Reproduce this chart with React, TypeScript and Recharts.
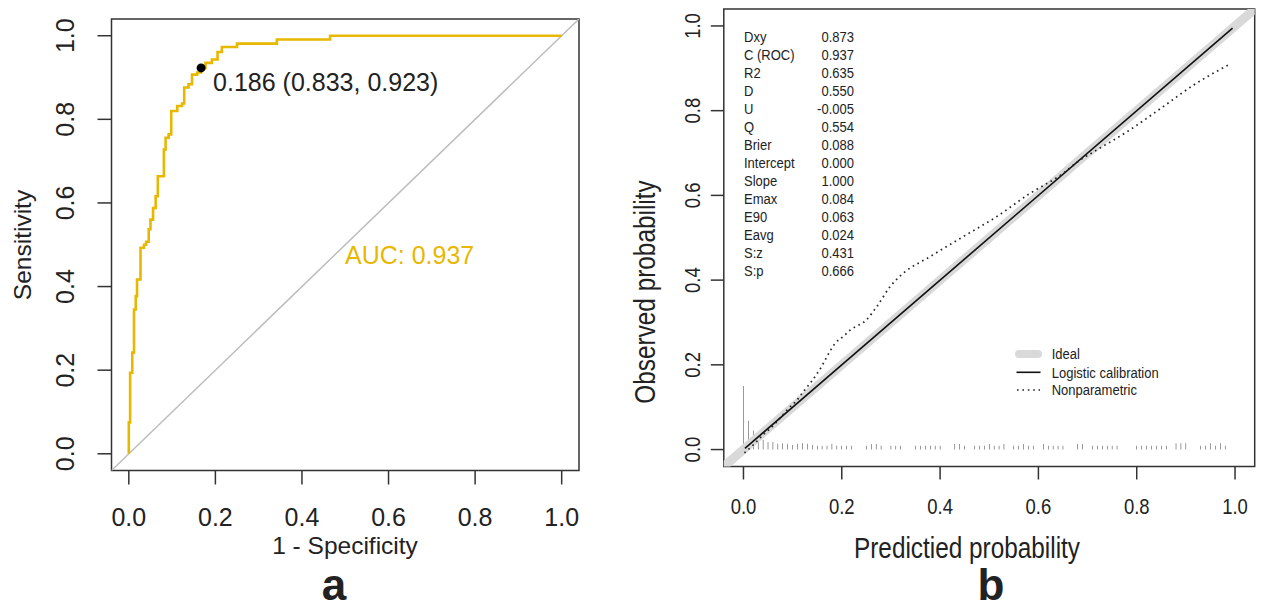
import React from "react";
import {
  Bar,
  ComposedChart,
  Line,
  ReferenceArea,
  ReferenceDot,
  XAxis,
  YAxis,
} from "recharts";

const SANS = "'Liberation Sans', Arial, Helvetica, sans-serif";
const SQUEEZE = 0.84; // panel b uses a narrow face
const GOLD = "#E8B700";
const INK = "#222";

const AXIS_TICKS = [0, 0.2, 0.4, 0.6, 0.8, 1.0];
const DOMAIN: [number, number] = [-0.04, 1.04];
const DIAG = [-0.1, 1.1];

// panel a: ROC, read as the top of each vertical step
const ROC_FPR = [
  0, 0, 0.003, 0.008, 0.012, 0.016, 0.019, 0.027, 0.035, 0.04, 0.046, 0.05, 0.056, 0.062, 0.067,
  0.081, 0.085, 0.092, 0.098, 0.112, 0.123, 0.128, 0.138, 0.146, 0.158, 0.167, 0.177, 0.192, 0.205,
  0.215, 0.25, 0.342, 0.465, 1.0,
];
const ROC_TPR = [
  0, 0.075, 0.194, 0.242, 0.345, 0.377, 0.417, 0.493, 0.5, 0.507, 0.537, 0.56, 0.588, 0.616, 0.664,
  0.728, 0.756, 0.764, 0.82, 0.832, 0.838, 0.876, 0.884, 0.907, 0.912, 0.923, 0.935, 0.943, 0.961,
  0.973, 0.981, 0.991, 1.0, 1.0,
];
const CUTOFF = { threshold: 0.186, specificity: 0.833, sensitivity: 0.923 };
const AUC = 0.937;

// panel b: calibration
const NP_P = [
  0.002, 0.021, 0.041, 0.055, 0.075, 0.089, 0.109, 0.122, 0.136, 0.149, 0.16, 0.17, 0.178, 0.186,
  0.203, 0.217, 0.25, 0.271, 0.298, 0.325, 0.379, 0.446, 0.514, 0.582, 0.649, 0.683, 0.717, 0.784,
  0.852, 0.919, 0.99,
];
const NP_OBS = [
  -0.008, 0.012, 0.036, 0.05, 0.075, 0.094, 0.117, 0.137, 0.157, 0.178, 0.198, 0.22, 0.236, 0.25,
  0.267, 0.282, 0.306, 0.337, 0.384, 0.416, 0.455, 0.502, 0.549, 0.604, 0.651, 0.682, 0.706, 0.753,
  0.808, 0.863, 0.91,
];
// intercept 0, slope 1 -> identity over the range of predictions
const LOGISTIC_P = [0.003, 0.995];

const SPIKE_P = [
  0.0, 0.01, 0.02, 0.03, 0.04, 0.05, 0.06, 0.07, 0.08, 0.09, 0.1, 0.11, 0.12, 0.13, 0.14, 0.15, 0.16,
  0.17, 0.18, 0.19, 0.2, 0.21, 0.22,
  0.25, 0.26, 0.27, 0.28,
  0.3, 0.31, 0.32,
  0.35, 0.36, 0.37, 0.38, 0.39, 0.4,
  0.43, 0.44, 0.45,
  0.47, 0.48, 0.49, 0.5, 0.51, 0.52, 0.53,
  0.55, 0.56, 0.57, 0.58, 0.59,
  0.61, 0.62, 0.63, 0.64, 0.65,
  0.68, 0.69,
  0.71, 0.72, 0.73, 0.74, 0.75, 0.76,
  0.8, 0.81, 0.82, 0.83, 0.84, 0.85, 0.86,
  0.88, 0.89, 0.9,
  0.93, 0.94, 0.95, 0.96, 0.97, 0.98,
];
const SPIKE_H = [
  0.15, 0.068, 0.045, 0.04, 0.023, 0.018, 0.018, 0.014, 0.015, 0.014, 0.011, 0.014, 0.015, 0.014,
  0.011, 0.009, 0.009, 0.009, 0.014, 0.009, 0.009, 0.009, 0.009,
  0.009, 0.013, 0.013, 0.009,
  0.009, 0.009, 0.009,
  0.009, 0.009, 0.009, 0.009, 0.009, 0.009,
  0.013, 0.013, 0.009,
  0.009, 0.009, 0.009, 0.013, 0.009, 0.009, 0.013,
  0.009, 0.009, 0.013, 0.009, 0.009,
  0.013, 0.009, 0.009, 0.009, 0.009,
  0.013, 0.013,
  0.009, 0.009, 0.009, 0.009, 0.009, 0.009,
  0.009, 0.009, 0.009, 0.009, 0.009, 0.009, 0.009,
  0.015, 0.015, 0.015,
  0.009, 0.009, 0.015, 0.009, 0.015, 0.009,
];

const STAT_NAMES = [
  "Dxy", "C (ROC)", "R2", "D", "U", "Q", "Brier", "Intercept", "Slope", "Emax", "E90", "Eavg", "S:z", "S:p",
];
const STAT_VALUES = [
  "0.873", "0.937", "0.635", "0.550", "-0.005", "0.554", "0.088", "0.000", "1.000", "0.084", "0.063",
  "0.024", "0.431", "0.666",
];
const LEGEND_LABELS = ["Ideal", "Logistic calibration", "Nonparametric"];

const rocData = ROC_FPR.map((x, i) => ({ x, y: ROC_TPR[i] }));
const diagData = DIAG.map((v) => ({ x: v, y: v }));
const npData = NP_P.map((x, i) => ({ x, y: NP_OBS[i] }));
const logisticData = LOGISTIC_P.map((v) => ({ x: v, y: v }));
const spikeData = SPIKE_P.map((x, i) => ({ x, h: SPIKE_H[i] }));

// text in the narrow face of panel b: a squeezed Liberation Sans
function Narrow({ x, y, size, anchor = "start", rotate = false, dy, children }: any) {
  const t = `translate(${x} ${y})${rotate ? " rotate(-90)" : ""} scale(${SQUEEZE} 1)`;
  return (
    <text transform={t} x={0} y={0} dy={dy} textAnchor={anchor} fontFamily={SANS} fontSize={size} fill={INK}>
      {children}
    </text>
  );
}

function makeXTick(size: number, dy: number, narrow: boolean) {
  return (props: any) => {
    const { x, y, payload } = props;
    const label = Number(payload.value).toFixed(1);
    if (narrow) return <Narrow x={x} y={y + dy} size={size} anchor="middle">{label}</Narrow>;
    return (
      <text x={x} y={y + dy} textAnchor="middle" fontFamily={SANS} fontSize={size} fill={INK}>
        {label}
      </text>
    );
  };
}

function makeYTick(size: number, dx: number, narrow: boolean) {
  return (props: any) => {
    const { x, y, payload } = props;
    const cx = x - dx;
    const label = Number(payload.value).toFixed(1);
    if (narrow) return <Narrow x={cx} y={y} size={size} anchor="middle" rotate dy="0.35em">{label}</Narrow>;
    return (
      <text x={cx} y={y} dy="0.35em" transform={`rotate(-90 ${cx} ${y})`} textAnchor="middle" fontFamily={SANS} fontSize={size} fill={INK}>
        {label}
      </text>
    );
  };
}

function ThresholdLabel(props: any) {
  const vb = props.viewBox || { x: 0, y: 0, width: 0, height: 0 };
  const cx = vb.x + vb.width / 2;
  const cy = vb.y + vb.height / 2;
  const txt = `${CUTOFF.threshold.toFixed(3)} (${CUTOFF.specificity.toFixed(3)}, ${CUTOFF.sensitivity.toFixed(3)})`;
  return (
    <text x={cx + 12} y={cy + 23.5} fontFamily={SANS} fontSize={25} fill={INK}>
      {txt}
    </text>
  );
}

const tickLine = { stroke: "#333", strokeWidth: 1.5 };

function RocPanel() {
  return (
    <ComposedChart width={600} height={610} margin={{ top: 19, right: 21, left: 0, bottom: 0 }}>
      <XAxis
        type="number"
        dataKey="x"
        domain={DOMAIN}
        ticks={AXIS_TICKS}
        interval={0}
        allowDataOverflow
        height={139.5}
        tickSize={14}
        tickMargin={0}
        axisLine={false}
        tickLine={tickLine}
        tick={makeXTick(25, 41, false)}
      />
      <YAxis
        type="number"
        domain={DOMAIN}
        ticks={AXIS_TICKS}
        interval={0}
        allowDataOverflow
        width={111.5}
        tickSize={14}
        tickMargin={0}
        axisLine={false}
        tickLine={tickLine}
        tick={makeYTick(25, 32.5, false)}
      />
      <ReferenceArea x1={DOMAIN[0]} x2={DOMAIN[1]} y1={DOMAIN[0]} y2={DOMAIN[1]} fill="none" stroke="#333" strokeWidth={1.5} fillOpacity={0} />
      <Line data={diagData} dataKey="y" stroke="#bdbdbd" strokeWidth={1.5} dot={false} isAnimationActive={false} />
      <Line data={rocData} dataKey="y" type="stepAfter" stroke={GOLD} strokeWidth={2.6} dot={false} isAnimationActive={false} />
      <ReferenceDot
        x={1 - CUTOFF.specificity}
        y={CUTOFF.sensitivity}
        r={4.5}
        fill="#000"
        stroke="none"
        label={<ThresholdLabel />}
      />
    </ComposedChart>
  );
}

function CalibrationPanel() {
  return (
    <ComposedChart width={642} height={610} data={spikeData} margin={{ top: 9, right: 7.3, left: 0, bottom: 0 }}>
      <XAxis
        type="number"
        dataKey="x"
        domain={DOMAIN}
        ticks={AXIS_TICKS}
        interval={0}
        allowDataOverflow
        height={143.5}
        tickSize={13}
        tickMargin={0}
        axisLine={false}
        tickLine={tickLine}
        tick={makeXTick(22, 34.4, true)}
      />
      <YAxis
        type="number"
        domain={DOMAIN}
        ticks={AXIS_TICKS}
        interval={0}
        allowDataOverflow
        width={103.8}
        tickSize={13}
        tickMargin={0}
        axisLine={false}
        tickLine={tickLine}
        tick={makeYTick(22, 19, true)}
      />
      <ReferenceArea x1={DOMAIN[0]} x2={DOMAIN[1]} y1={DOMAIN[0]} y2={DOMAIN[1]} fill="none" stroke="#333" strokeWidth={1.5} fillOpacity={0} />
      <Line data={diagData} dataKey="y" stroke="#d9d9d9" strokeWidth={9} dot={false} isAnimationActive={false} />
      <Bar dataKey="h" barSize={2} fill="#1a1a1a" isAnimationActive={false} />
      <Line data={logisticData} dataKey="y" stroke="#111" strokeWidth={1.6} dot={false} isAnimationActive={false} />
      <Line
        data={npData}
        dataKey="y"
        type="monotone"
        stroke="#222"
        strokeWidth={1.7}
        strokeDasharray="1.6 3.8"
        dot={false}
        isAnimationActive={false}
      />
    </ComposedChart>
  );
}

function Overlay() {
  const legendY = [354, 372.3, 390];
  return (
    <svg width={1262} height={610} style={{ position: "absolute", left: 0, top: 0, pointerEvents: "none" }}>
      {/* panel a texts */}
      <text x={22} y={245} dy="0.35em" transform="rotate(-90 22 245)" textAnchor="middle" fontFamily={SANS} fontSize={24.5} fill={INK}>
        Sensitivity
      </text>
      <text x={345} y={554} textAnchor="middle" fontFamily={SANS} fontSize={24.5} fill={INK}>
        1 - Specificity
      </text>
      <text x={345} y={264} fontFamily={SANS} fontSize={25} fill={GOLD}>
        {`AUC: ${AUC.toFixed(3)}`}
      </text>
      <text x={334} y={600} textAnchor="middle" fontFamily={SANS} fontWeight="bold" fontSize={44} fill={INK}>
        a
      </text>

      {/* panel b texts */}
      <Narrow x={645} y={292} size={29} anchor="middle" rotate dy="0.35em">Observed probability</Narrow>
      <Narrow x={967} y={558} size={29} anchor="middle">Predictied probability</Narrow>
      <text x={991} y={600} textAnchor="middle" fontFamily={SANS} fontWeight="bold" fontSize={44} fill={INK}>
        b
      </text>

      {STAT_NAMES.map((name, i) => (
        <g key={name}>
          <Narrow x={744} y={42.2 + i * 17.95} size={15.5}>{name}</Narrow>
          <Narrow x={854} y={42.2 + i * 17.95} size={15.5} anchor="end">{STAT_VALUES[i]}</Narrow>
        </g>
      ))}

      {/* legend */}
      <line x1={1019} x2={1038} y1={legendY[0]} y2={legendY[0]} stroke="#d9d9d9" strokeWidth={8} strokeLinecap="round" />
      <line x1={1016.5} x2={1040.5} y1={legendY[1]} y2={legendY[1]} stroke="#111" strokeWidth={1.6} />
      <line x1={1017} x2={1040} y1={legendY[2]} y2={legendY[2]} stroke="#222" strokeWidth={1.7} strokeDasharray="1.6 3.8" />
      {LEGEND_LABELS.map((label, i) => (
        <Narrow key={label} x={1051.7} y={legendY[i] + 5.4} size={15.5}>{label}</Narrow>
      ))}
    </svg>
  );
}

export default function App() {
  return (
    <div style={{ position: "absolute", left: 0, top: 0, width: 1262, height: 610, background: "#fff" }}>
      <div style={{ position: "absolute", left: 0, top: 0 }}>
        <RocPanel />
      </div>
      <div style={{ position: "absolute", left: 620, top: 0 }}>
        <CalibrationPanel />
      </div>
      <Overlay />
    </div>
  );
}
